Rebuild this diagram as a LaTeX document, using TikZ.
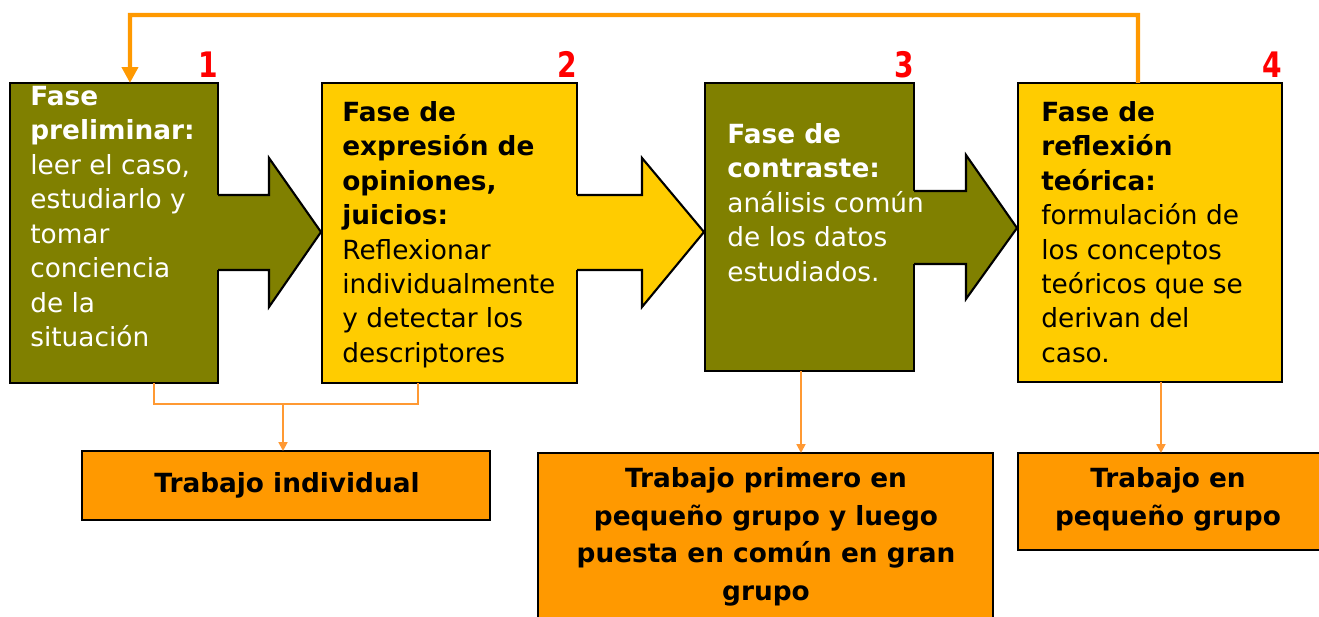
\documentclass[tikz,border=0pt]{standalone}
\usepackage{fontspec}
\setmainfont{DejaVu Sans}
\newfontfamily\numfont{DejaVu Sans}[FakeStretch=0.8]
\usetikzlibrary{arrows.meta}
\definecolor{olivec}{HTML}{808000}
\definecolor{yellowc}{HTML}{FFCC00}
\definecolor{orangec}{HTML}{FF9900}
\definecolor{orangel}{HTML}{FF9933}
\definecolor{redc}{HTML}{FF0000}
\begin{document}
\begin{tikzpicture}[x=0.02cm,y=-0.02cm,
  phase/.style={draw=black, line width=1.2pt, inner sep=0pt, outer sep=0pt, anchor=north west},
  workbox/.style={draw=black, line width=1pt, fill=orangec, inner sep=0pt, outer sep=0pt, anchor=north west},
  ptext/.style={anchor=north west, inner sep=0pt, align=left, font=\fontsize{15}{19.6}\selectfont},
  num/.style={text=redc, font=\numfont\bfseries\fontsize{20}{22}\selectfont, anchor=base east, inner sep=0pt},
  wtext/.style={align=center, inner sep=0pt, font=\bfseries\fontsize{15}{21.5}\selectfont},
  loopline/.style={draw=orangec, line width=2.3pt, -{Triangle[length=9pt,width=9pt]}},
  conn/.style={draw=orangel, line width=1.1pt},
  connarrow/.style={conn, -{Triangle[length=5pt,width=5pt]}},
  blockout/.style={draw=black, line width=1.2pt, line join=miter}
]
\useasboundingbox (0,0) rectangle (1319,617);
\clip (0,0) rectangle (1319,617);
\fill[white] (0,0) rectangle (1319,617);

% phase boxes
\node[phase, fill=olivec, minimum width=4.16cm, minimum height=6.0cm] (b1) at (10,83) {};
\node[phase, fill=yellowc, minimum width=5.10cm, minimum height=6.0cm] (b2) at (322,83) {};
\node[phase, fill=olivec, minimum width=4.18cm, minimum height=5.76cm] (b3) at (705,83) {};
\node[phase, fill=yellowc, minimum width=5.28cm, minimum height=5.98cm] (b4) at (1018,83) {};

% block arrows
\fill[olivec] (216,195) -- (269,195) -- (269,158) -- (321,232) -- (269,307) -- (269,270) -- (216,270) -- cycle;
\draw[blockout] (218,195) -- (269,195) -- (269,158) -- (321,232) -- (269,307) -- (269,270) -- (218,270);
\fill[yellowc] (575,195) -- (642,195) -- (642,158) -- (704,232) -- (642,307) -- (642,270) -- (575,270) -- cycle;
\draw[blockout] (577,195) -- (642,195) -- (642,158) -- (704,232) -- (642,307) -- (642,270) -- (577,270);
\fill[olivec] (912,191) -- (966,191) -- (966,155) -- (1017,228) -- (966,299) -- (966,264) -- (912,264) -- cycle;
\draw[blockout] (914,191) -- (966,191) -- (966,155) -- (1017,228) -- (966,299) -- (966,264) -- (914,264);

% texts
\node[ptext, text=white] (tx1) at (30,86) {\textbf{Fase}\\\textbf{preliminar:}\\leer el caso,\\estudiarlo y\\tomar\\conciencia\\de la\\situación};
\node[ptext, text=black] (tx2) at (342,101) {\textbf{Fase de}\\\textbf{expresión de}\\\textbf{opiniones,}\\\textbf{juicios:}\\Reflexionar\\individualmente\\y detectar los\\descriptores};
\node[ptext, text=white] (tx3) at (727,123) {\textbf{Fase de}\\\textbf{contraste:}\\análisis común\\de los datos\\estudiados.};
\node[ptext, text=black] (tx4) at (1041,101) {\textbf{Fase de}\\\textbf{reflexión}\\\textbf{teórica:}\\formulación de\\los conceptos\\teóricos que se\\derivan del\\caso.};

% numbers
\node[num] (n1) at ([yshift=0.1cm]b1.north east) {1};
\node[num] (n2) at ([yshift=0.1cm]b2.north east) {2};
\node[num] (n3) at ([yshift=0.1cm]b3.north east) {3};
\node[num] (n4) at ([yshift=0.1cm]b4.north east) {4};

% work boxes
\node[workbox, minimum width=8.16cm, minimum height=1.38cm] (t1) at (82,451) {};
\node[workbox, minimum width=9.10cm, minimum height=3.6cm] (t2) at (538,453) {};
\node[workbox, minimum width=6.30cm, minimum height=1.94cm] (t3) at (1018,453) {};
\node[wtext] (w1) at (287,485) {Trabajo individual};
\node[wtext, anchor=north] (w2) at (766,467) {Trabajo primero en\\pequeño grupo y luego\\puesta en común en gran\\grupo};
\node[wtext, anchor=north] (w3) at (1168,467) {Trabajo en\\pequeño grupo};

% feedback loop
\coordinate (tl) at (130,15);
\draw[loopline] ([xshift=2.4cm]b4.north west) |- (tl) -- ([xshift=2.4cm]b1.north west);

% connectors to work boxes
\coordinate (j) at (283,404);
\draw[conn] ([xshift=2.88cm]b1.south west) |- (j) -| ([xshift=1.92cm]b2.south west);
\draw[connarrow] (j) -- (j |- t1.north);
\draw[connarrow] ([xshift=1.92cm]b3.south west) -- ([xshift=1.92cm]b3.south west |- t2.north);
\draw[connarrow] ([xshift=2.86cm]b4.south west) -- ([xshift=2.86cm]b4.south west |- t3.north);
\end{tikzpicture}
\end{document}
